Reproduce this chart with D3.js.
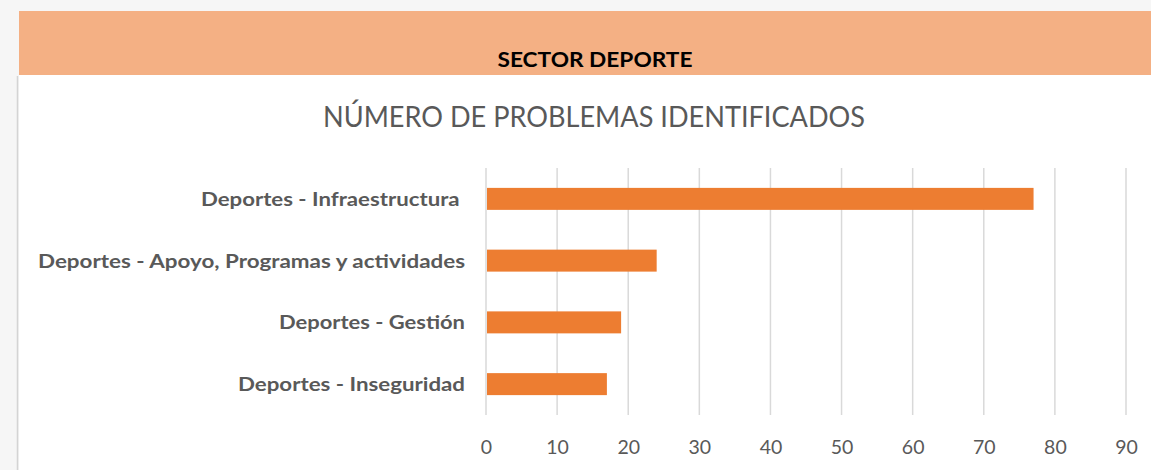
<!DOCTYPE html>
<html>
<head>
<meta charset="utf-8">
<script src="https://cdn.jsdelivr.net/npm/d3@7"></script>
<style>
  html, body { margin: 0; padding: 0; background: #f6f6f6; }
  svg { display: block; }
  text { font-family: Lato, "Open Sans", sans-serif; white-space: pre; }
</style>
</head>
<body>
<svg id="chart" width="1151" height="470"></svg>
<script>
// ---- data ----
const categories = [
  "Deportes - Infraestructura ",
  "Deportes - Apoyo, Programas y actividades",
  "Deportes - Gestión",
  "Deportes - Inseguridad"
];
const values = [77, 24, 19, 17];
const tickValues = [0, 10, 20, 30, 40, 50, 60, 70, 80, 90];
const headerText = "SECTOR DEPORTE";
const chartTitle = "NÚMERO DE PROBLEMAS IDENTIFICADOS";

// ---- layout ----
const W = 1151, H = 470;
const svg = d3.select("#chart");

// page background pieces
svg.append("rect").attr("x", 0).attr("y", 0).attr("width", W).attr("height", H).attr("fill", "#f6f6f6");
svg.append("rect").attr("x", 19).attr("y", 75).attr("width", W - 19).attr("height", H - 75).attr("fill", "#ffffff");
svg.append("rect").attr("x", 19).attr("y", 11).attr("width", W - 19).attr("height", 64).attr("fill", "#F4B084");
svg.append("line").attr("x1", 17.5).attr("x2", 17.5).attr("y1", 76).attr("y2", H)
  .attr("stroke", "#d4d4d4").attr("stroke-width", 1.5);

// header
svg.append("text")
  .attr("x", 595).attr("y", 67)
  .attr("text-anchor", "middle")
  .attr("font-weight", "bold")
  .attr("font-size", 21.5)
  .attr("fill", "#000000")
  .attr("textLength", 195).attr("lengthAdjust", "spacingAndGlyphs")
  .text(headerText);

// chart title
svg.append("text")
  .attr("x", 594).attr("y", 127)
  .attr("text-anchor", "middle")
  .attr("font-size", 29)
  .attr("fill", "#595959")
  .attr("textLength", 542).attr("lengthAdjust", "spacingAndGlyphs")
  .text(chartTitle);

// scales
const x = d3.scaleLinear().domain([0, 90]).range([486, 1126]);
const y = d3.scaleBand().domain(categories).range([168, 415]).paddingInner(0.644).paddingOuter(0.322);

// gridlines
svg.append("g").selectAll("line")
  .data(tickValues)
  .join("line")
  .attr("x1", d => x(d)).attr("x2", d => x(d))
  .attr("y1", 168).attr("y2", 415)
  .attr("stroke", "#d9d9d9").attr("stroke-width", 1.5);

// bars
svg.append("g").selectAll("rect")
  .data(categories)
  .join("rect")
  .attr("x", x(0) + 1)
  .attr("y", d => y(d))
  .attr("width", (d, i) => x(values[i]) - x(0) - 1)
  .attr("height", y.bandwidth())
  .attr("fill", "#ED7D31");

// x axis tick labels
const xAxis = d3.axisBottom(x).tickValues(tickValues).tickSize(0).tickPadding(0);
const gx = svg.append("g").attr("transform", "translate(0,440)").call(xAxis);
gx.select(".domain").remove();
gx.selectAll("text")
  .attr("dy", null).attr("y", 14)
  .attr("font-family", "Lato, 'Open Sans', sans-serif")
  .attr("font-size", 19.5)
  .attr("fill", "#595959");

// category labels
const labelWidths = [264, 427, 186, 227];
const yAxis = d3.axisLeft(y).tickSize(0).tickPadding(0);
const gy = svg.append("g").attr("transform", "translate(465,0)").call(yAxis);
gy.select(".domain").remove();
gy.selectAll("text")
  .attr("x", 0).attr("dy", null).attr("y", 7)
  .attr("font-family", "Lato, 'Open Sans', sans-serif")
  .attr("font-weight", "bold")
  .attr("font-size", 19.5)
  .attr("fill", "#595959")
  .attr("textLength", (d, i) => labelWidths[i])
  .attr("lengthAdjust", "spacingAndGlyphs");
</script>
</body>
</html>
